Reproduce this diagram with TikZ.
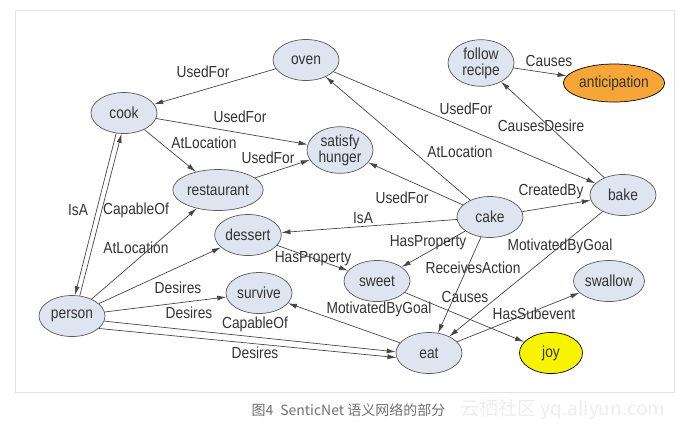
\documentclass[tikz,border=0pt]{standalone}
\usepackage{fontspec}
\setmainfont{Liberation Sans}[FakeStretch=0.86]
\newfontfamily\cjkfont{Noto Sans CJK SC}
\usetikzlibrary{arrows.meta, shapes.geometric}
\definecolor{nodefill}{HTML}{DFE5F0}
\definecolor{nodeline}{HTML}{5A5A5A}
\definecolor{edgegray}{HTML}{474747}
\definecolor{textgray}{HTML}{333333}
\definecolor{orangefill}{HTML}{F5A637}
\definecolor{yellowfill}{HTML}{F8F400}
\definecolor{framegray}{HTML}{E3E3E3}
\definecolor{captiongray}{HTML}{707070}
\definecolor{markgray}{HTML}{EDEDED}

\begin{document}
\begin{tikzpicture}[x=1pt, y=-1pt, >={Latex[length=9pt,width=5pt]},
  font=\fontsize{16}{16}\selectfont, text=textgray,
  concept/.style={ellipse, draw=nodeline, fill=nodefill, line width=0.7pt,
    minimum width=66pt, minimum height=41pt, inner sep=1pt, align=center},
  rel/.style={->, draw=edgegray, line width=0.7pt},
  lbl/.style={inner sep=0pt}]
  \useasboundingbox (0,0) rectangle (685,432);
  \draw[framegray] (15,10) rectangle (674,392);

  % Konzepte
  \node[concept] (oven) at (306,60) {oven};
  \node[concept] (cook) at (124,113) {cook};
  \node[concept] (hunger) at (340,150) {satisfy\\hunger};
  \node[concept, minimum width=70pt] (restaurant) at (218,190) {restaurant};
  \node[concept] (recipe) at (481,63) {follow\\recipe};
  \node[concept, fill=orangefill, draw=black, minimum width=78pt, minimum height=38pt] (anticipation) at (614,83) {anticipation};
  \node[concept] (bake) at (623,195) {bake};
  \node[concept] (cake) at (490,217) {cake};
  \node[concept] (dessert) at (248,235) {dessert};
  \node[concept] (sweet) at (377,281) {sweet};
  \node[concept] (survive) at (259,293) {survive};
  \node[concept] (swallow) at (609,281) {swallow};
  \node[concept] (person) at (72,316) {person};
  \node[concept] (eat) at (429,353) {eat};
  \node[concept, fill=yellowfill, draw=black, minimum width=63pt] (joy) at (551,353) {joy};

  % Relationen
  \draw[rel] (oven) -- (cook);
  \draw[rel] (cook) -- (hunger);
  \draw[rel] (cook) -- (restaurant);
  \draw[rel] (restaurant) -- (hunger);
  \draw[rel] (recipe) -- (anticipation);
  \draw[rel] (oven) -- (bake);
  \draw[rel] (cake) -- (oven);
  \draw[rel] (bake) -- (recipe);
  \draw[rel] (cake) -- (hunger);
  \draw[rel] (cake) -- (dessert);
  \draw[rel] (cake) -- (bake);
  \draw[rel] (cake) -- (sweet);
  \draw[rel] (cake) -- (eat);
  \draw[rel] (bake) -- (eat);
  \draw[rel] (sweet) -- (joy);
  \draw[rel] (eat) -- (swallow);
  \draw[rel] (eat) -- (survive);
  \draw[rel] (dessert) -- (sweet);
  \draw[rel] (cook.249) -- (person.82);
  \draw[rel] (person.69) -- (cook.263);
  \draw[rel] (person) -- (restaurant);
  \draw[rel] (person) -- (dessert);
  \draw[rel] (person) -- (survive);
  \draw[rel] (person.-9) -- (eat.178);
  \draw[rel] (person.-25) -- (eat.188);

  % Beschriftungen
  \node[lbl] (l1) at (203,72) {UsedFor};
  \node[lbl] (l2) at (240,117) {UsedFor};
  \node[lbl] (l3) at (204,143) {AtLocation};
  \node[lbl] (l4) at (268,158) {UsedFor};
  \node[lbl] (l5) at (549,61) {Causes};
  \node[lbl] (l6) at (466,109) {UsedFor};
  \node[lbl] (l7) at (460,152) {AtLocation};
  \node[lbl] (l8) at (541,126) {CausesDesire};
  \node[lbl] (l9) at (402,198) {UsedFor};
  \node[lbl] (l10) at (363,218) {IsA};
  \node[lbl] (l11) at (551,191) {CreatedBy};
  \node[lbl] (l12) at (428,243) {HasProperty};
  \node[lbl] (l13) at (473,268) {ReceivesAction};
  \node[lbl] (l14) at (560,246) {MotivatedByGoal};
  \node[lbl] (l15) at (465,297) {Causes};
  \node[lbl] (l16) at (534,314) {HasSubevent};
  \node[lbl] (l17) at (379,309) {MotivatedByGoal};
  \node[lbl] (l18) at (313,259) {HasProperty};
  \node[lbl] (l19) at (78,210) {IsA};
  \node[lbl] (l20) at (136,210) {CapableOf};
  \node[lbl] (l21) at (136,248) {AtLocation};
  \node[lbl] (l22) at (178,288) {Desires};
  \node[lbl] (l23) at (189,313) {Desires};
  \node[lbl] (l24) at (255,324) {CapableOf};
  \node[lbl] (l25) at (255,353) {Desires};

  % Bildunterschrift
  \node[markgray, font=\cjkfont\fontsize{19}{19}\selectfont] (mark) at (563,410) {云栖社区 yq.aliyun.com};
  \node[captiongray, anchor=west, font=\cjkfont\fontsize{14}{14}\selectfont] (caption) at (248,410) {图4\enspace SenticNet 语义网络的部分};
\end{tikzpicture}
\end{document}
